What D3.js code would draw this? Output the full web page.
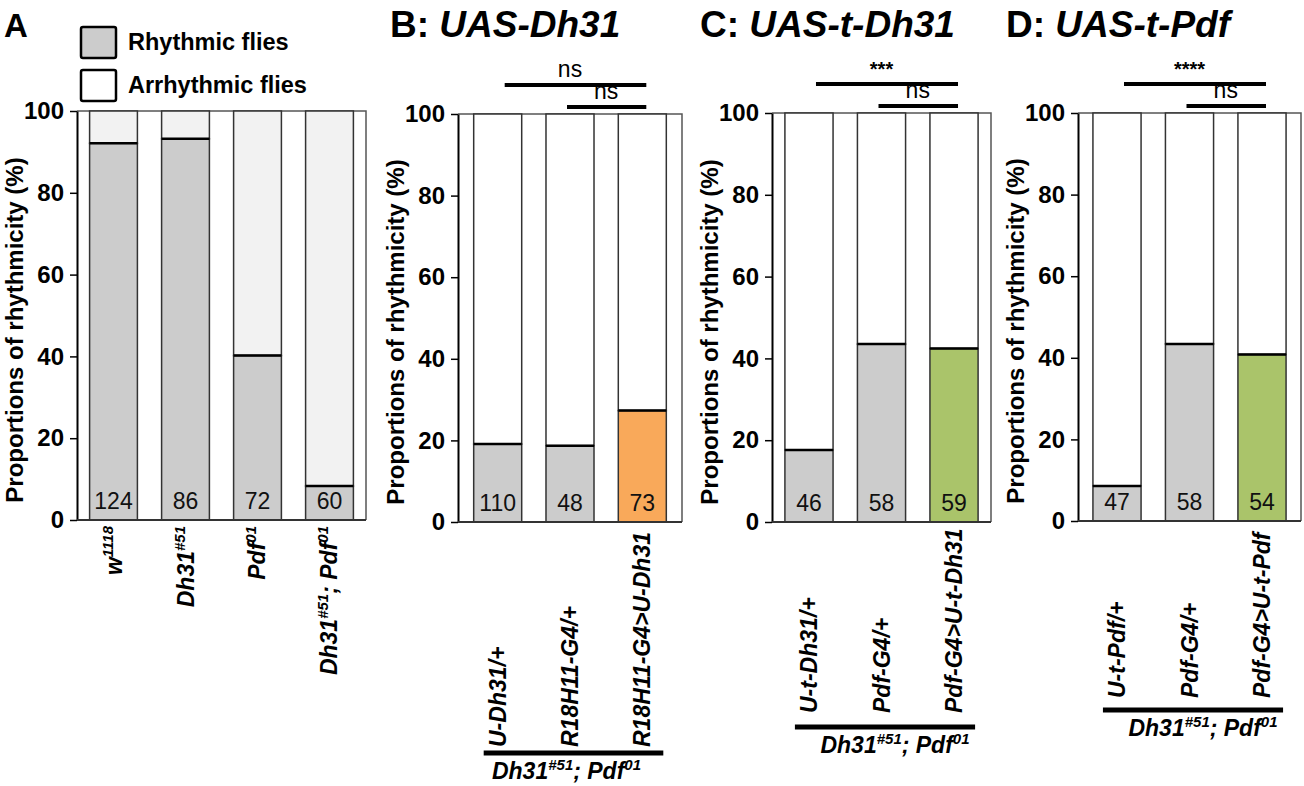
<!DOCTYPE html>
<html>
<head>
<meta charset="utf-8">
<script src="https://cdn.jsdelivr.net/npm/d3@7"></script>
<style>
  body { margin: 0; background: #fff; }
  svg { display: block; font-family: "Liberation Sans", Arial, Helvetica, sans-serif; }
</style>
</head>
<body>
<div id="chart"></div>
<script>
// ---- data ----
const yTicks = [0, 20, 40, 60, 80, 100];

const genotypesA = ['w^1118', 'Dh31^#51', 'Pdf^01', 'Dh31^#51; Pdf^01'];
const rhythmicA = [92.1, 93.2, 40.2, 8.3];
const countsA = [124, 86, 72, 60];

const genotypesB = ['U-Dh31/+', 'R18H11-G4/+', 'R18H11-G4>U-Dh31'];
const rhythmicB = [19.1, 18.7, 27.3];
const countsB = [110, 48, 73];
const sigB = [[0, 2, 'ns'], [1, 2, 'ns']];

const genotypesC = ['U-t-Dh31/+', 'Pdf-G4/+', 'Pdf-G4>U-t-Dh31'];
const rhythmicC = [17.6, 43.5, 42.4];
const countsC = [46, 58, 59];
const sigC = [[0, 2, '***'], [1, 2, 'ns']];

const genotypesD = ['U-t-Pdf/+', 'Pdf-G4/+', 'Pdf-G4>U-t-Pdf'];
const rhythmicD = [8.6, 43.4, 40.8];
const countsD = [47, 58, 54];
const sigD = [[0, 2, '****'], [1, 2, 'ns']];

const background = 'Dh31^#51; Pdf^01';
const legendItems = ['Rhythmic flies', 'Arrhythmic flies'];

const GRAY = '#cccccc', LIGHT = '#f2f2f2', ORANGE = '#f9a95a', GREEN = '#aac46a';

const W = 1304, H = 786;
const svg = d3.select('#chart').append('svg')
  .attr('width', W)
  .attr('height', H);

// text with ^superscripts (superscript runs until a space, ';' or end)
function addRich(text, str, supSize, rise) {
  let shift = 0;
  str.split(/(\^[^;\s]+)/).filter(s => s.length).forEach(s => {
    const isSup = s[0] === '^';
    const target = isSup ? -rise : 0;
    text.append('tspan')
      .attr('dy', target - shift)
      .attr('font-size', isSup ? supSize : null)
      .text(isSup ? s.slice(1) : s);
    shift = target;
  });
}

function drawPanel(p) {
  const g = svg.append('g');
  const x = d3.scaleBand()
    .domain(d3.range(p.labels.length))
    .range([p.left, p.right])
    .paddingInner(0.336)
    .paddingOuter(p.padOuter);
  const y = d3.scaleLinear().domain([0, 100]).range([p.bottom, p.top]);
  const bw = x.bandwidth();
  const cx = i => x(i) + bw / 2;

  // frame (top + right)
  g.append('path')
    .attr('d', `M${p.left},${y(100)}H${p.right}V${y(0)}`)
    .attr('fill', 'none')
    .attr('stroke', '#555')
    .attr('stroke-width', 1.5);

  const bars = g.append('g').selectAll('g')
    .data(p.values.map((v, i) => ({ i, v, n: p.counts[i] })))
    .join('g');

  // arrhythmic part
  bars.append('rect')
    .attr('x', d => x(d.i))
    .attr('width', bw)
    .attr('y', y(100))
    .attr('height', d => y(d.v) - y(100))
    .attr('fill', p.arrFill)
    .attr('stroke', '#333')
    .attr('stroke-width', 1.5);

  // rhythmic part
  bars.append('rect')
    .attr('x', d => x(d.i))
    .attr('width', bw)
    .attr('y', d => y(d.v))
    .attr('height', d => y(0) - y(d.v))
    .attr('fill', d => p.colors[d.i])
    .attr('stroke', '#333')
    .attr('stroke-width', 1.5);

  bars.append('line')
    .attr('x1', d => x(d.i))
    .attr('x2', d => x(d.i) + bw)
    .attr('y1', d => y(d.v))
    .attr('y2', d => y(d.v))
    .attr('stroke', '#000')
    .attr('stroke-width', 2.5);

  bars.append('text')
    .attr('x', d => cx(d.i))
    .attr('y', y(0) - 11)
    .attr('text-anchor', 'middle')
    .attr('font-size', 23)
    .attr('fill', '#111')
    .text(d => d.n);

  // y axis
  const ax = g.append('g')
    .attr('transform', `translate(${p.left},0)`)
    .call(d3.axisLeft(y).tickValues(yTicks).tickSize(7).tickPadding(6).tickSizeOuter(0));
  ax.select('.domain').attr('stroke', '#000').attr('stroke-width', 2);
  ax.selectAll('.tick line').attr('stroke', '#000').attr('stroke-width', 1.5);
  ax.selectAll('.tick text')
    .attr('font-size', 24)
    .attr('font-weight', 'bold')
    .attr('font-family', '"Liberation Sans", Arial, sans-serif')
    .attr('fill', '#000');

  // x baseline
  g.append('line')
    .attr('x1', p.left).attr('x2', p.right)
    .attr('y1', y(0)).attr('y2', y(0))
    .attr('stroke', '#333').attr('stroke-width', 2);

  g.append('text')
    .attr('transform', `translate(${p.left - 54},${p.bottom - 190}) rotate(-90)`)
    .attr('text-anchor', 'middle')
    .attr('font-size', 24)
    .attr('font-weight', 'bold')
    .text('Proportions of rhythmicity (%)');

  // genotype labels
  p.labels.forEach((lab, i) => {
    const t = g.append('text')
      .attr('transform', `translate(${cx(i) + 8},${p.labelY}) rotate(-90)`)
      .attr('text-anchor', p.labelAnchor)
      .attr('font-size', 23)
      .attr('font-weight', 'bold')
      .attr('font-style', 'italic');
    addRich(t, lab, 15, 9);
  });

  // title
  const title = g.append('text')
    .attr('x', p.titleX)
    .attr('y', 37)
    .attr('font-size', p.title ? 37 : 33)
    .attr('font-weight', 'bold')
    .text(p.letter);
  if (p.title) {
    title.append('tspan').attr('font-style', 'italic').text(p.title);
  }

  // significance
  if (p.sig) {
    const lineY = [y(100) - 29, y(100) - 7];
    p.sig.forEach(([a, b, lab], lvl) => {
      g.append('text')
        .attr('x', (cx(a) + cx(b)) / 2)
        .attr('y', lineY[lvl] - 8)
        .attr('text-anchor', 'middle')
        .attr('font-size', lab === 'ns' ? 23 : 20)
        .attr('font-weight', lab === 'ns' ? 'normal' : 'bold')
        .text(lab);
    });
    p.sig.forEach(([a, b], lvl) => {
      g.append('line')
        .attr('x1', cx(a) + (lvl === 0 ? 7 : -3))
        .attr('x2', cx(b) + 4)
        .attr('y1', lineY[lvl]).attr('y2', lineY[lvl])
        .attr('stroke', '#000')
        .attr('stroke-width', 4);
    });
  }

  // background genotype bracket
  if (p.bgY) {
    const n = p.labels.length;
    const x1 = x(0) + 10, x2 = x(n - 1) + bw - 3;
    g.append('line')
      .attr('x1', x1).attr('x2', x2)
      .attr('y1', p.bgY).attr('y2', p.bgY)
      .attr('stroke', '#000')
      .attr('stroke-width', 5);
    const t = g.append('text')
      .attr('x', (x1 + x2) / 2 + p.bgShift)
      .attr('y', p.bgY + 26)
      .attr('text-anchor', 'middle')
      .attr('font-size', 23)
      .attr('font-weight', 'bold')
      .attr('font-style', 'italic');
    addRich(t, background, 15, 9);
  }
}

drawPanel({
  letter: 'A', title: null, titleX: 4,
  labels: genotypesA, values: rhythmicA, counts: countsA,
  colors: genotypesA.map(() => GRAY), arrFill: LIGHT,
  left: 77, right: 366, top: 111, bottom: 520, padOuter: 0.175,
  labelY: 526, labelAnchor: 'end'
});
drawPanel({
  letter: 'B: ', title: 'UAS-Dh31', titleX: 390,
  labels: genotypesB, values: rhythmicB, counts: countsB,
  colors: [GRAY, GRAY, ORANGE], arrFill: '#fff',
  left: 458, right: 682, top: 114, bottom: 522, padOuter: 0.217,
  labelY: 747, labelAnchor: 'start', sig: sigB, bgY: 753, bgShift: -7
});
drawPanel({
  letter: 'C: ', title: 'UAS-t-Dh31', titleX: 700,
  labels: genotypesC, values: rhythmicC, counts: countsC,
  colors: [GRAY, GRAY, GREEN], arrFill: '#fff',
  left: 772, right: 991, top: 113, bottom: 522, padOuter: 0.178,
  labelY: 713, labelAnchor: 'start', sig: sigC, bgY: 727, bgShift: 10
});
drawPanel({
  letter: 'D: ', title: 'UAS-t-Pdf', titleX: 1006,
  labels: genotypesD, values: rhythmicD, counts: countsD,
  colors: [GRAY, GRAY, GREEN], arrFill: '#fff',
  left: 1078, right: 1301, top: 113, bottom: 521, padOuter: 0.206,
  labelY: 698, labelAnchor: 'start', sig: sigD, bgY: 710, bgShift: 10
});

// legend (panel A)
const legend = svg.append('g').selectAll('g')
  .data(legendItems)
  .join('g')
  .attr('transform', (d, i) => `translate(81,${27 + i * 43})`);
legend.append('rect')
  .attr('width', 35).attr('height', 31).attr('rx', 2)
  .attr('fill', (d, i) => i === 0 ? GRAY : '#fff')
  .attr('stroke', '#000').attr('stroke-width', 2.5);
legend.append('text')
  .attr('x', 47).attr('y', 23)
  .attr('font-size', 23.5)
  .attr('font-weight', 'bold')
  .text(d => d);
</script>
</body>
</html>
